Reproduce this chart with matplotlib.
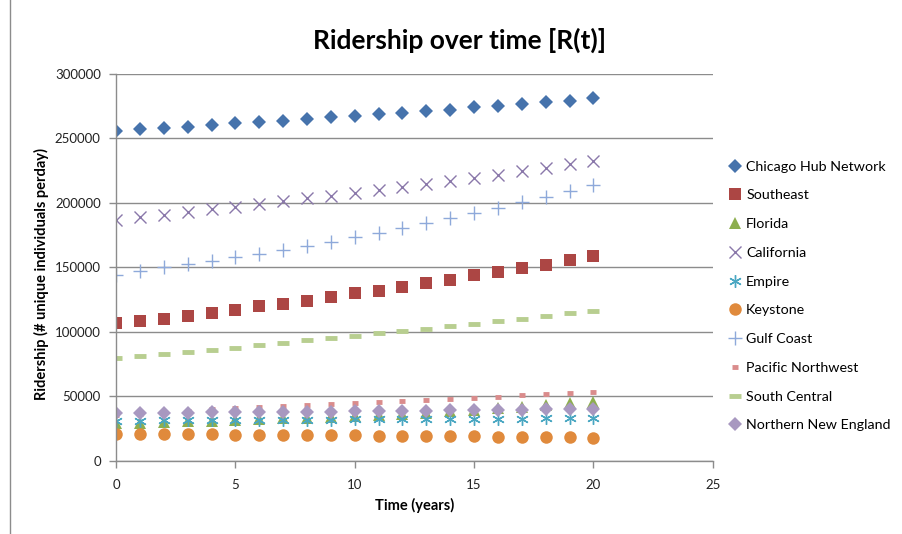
import numpy as np
import matplotlib
matplotlib.use("Agg")
import matplotlib.pyplot as plt
from matplotlib.lines import Line2D

plt.rcParams['font.family'] = ['Lato', 'DejaVu Sans']

# ridership per line, one value per year (0..20)
years = list(range(21))

chicago = [256000, 257200, 258300, 259100, 260800, 262000, 263100, 263800, 265300, 266300,
           267300, 268600, 269400, 271200, 272200, 274200, 275500, 276700, 278000, 279300, 281200]
southeast = [106700, 108500, 110200, 112100, 114800, 116700, 119800, 121300, 124100, 127000,
             129800, 131600, 134700, 137500, 140000, 143700, 146400, 149300, 152100, 156000, 158500]
florida = [29000, 29500, 30000, 30500, 31000, 31600, 32200, 32800, 33400, 34000,
           34600, 35400, 36300, 37300, 38400, 39600, 40800, 42000, 43200, 44400, 45600]
california = [186900, 188900, 190900, 193000, 195000, 197100, 199200, 201300, 203500, 205600,
              207800, 210100, 212400, 214700, 217100, 219500, 222000, 224500, 227100, 229800, 232500]
empire = [31000, 31100, 31200, 31300, 31400, 31500, 31600, 31700, 31800, 31900,
          32000, 32100, 32200, 32300, 32400, 32500, 32600, 32700, 32800, 32900, 33000]
keystone = [20800, 20700, 20600, 20500, 20400, 20300, 20100, 20000, 19900, 19800,
            19600, 19500, 19300, 19200, 19000, 18900, 18700, 18500, 18300, 18100, 17900]
gulf_coast = [144400, 146900, 150000, 152600, 155200, 157700, 160200, 163300, 166500, 170000,
              173500, 177000, 180500, 184300, 188200, 192200, 196300, 200500, 204800, 209200, 213600]
pacific_nw = [35500, 36500, 37500, 38600, 39800, 40800, 41700, 42500, 43300, 44100,
              44900, 45700, 46400, 47200, 48000, 48800, 49700, 50600, 51500, 52400, 53400]
south_central = [79500, 81000, 82900, 84100, 86000, 87700, 89500, 91300, 93300, 95200,
                 96900, 98700, 100800, 102500, 104400, 106400, 108200, 110000, 112500, 114600, 116200]
northern_ne = [37000, 37100, 37200, 37300, 37400, 37500, 37700, 37800, 38000, 38100,
               38300, 38500, 38700, 38900, 39100, 39300, 39500, 39700, 39900, 40100, 40300]

series = [
    ("Chicago Hub Network", chicago, dict(marker='D', color='#4673AC', ms=7.5, mew=0)),
    ("Southeast", southeast, dict(marker='s', color='#AC4644', ms=9, mew=0)),
    ("Florida", florida, dict(marker='^', color='#8DAE4F', ms=9, mew=0)),
    ("California", california, dict(marker='x', color='#8A78AA', ms=9, mew=1.0)),
    ("Empire", empire, dict(marker=(6, 2, 0), color='#4AA7C2', ms=9, mew=1.0)),
    ("Keystone", keystone, dict(marker='o', color='#E08A3C', ms=9, mew=0)),
    ("Gulf Coast", gulf_coast, dict(marker='+', color='#8EA9DA', ms=10, mew=1.0)),
    ("Pacific Northwest", pacific_nw, dict(marker='_', color='#DA8C8C', ms=4, mew=3.5)),
    ("South Central", south_central, dict(marker='_', color='#B8CE90', ms=9, mew=3.5)),
    ("Northern New England", northern_ne, dict(marker='D', color='#A898C0', ms=7.5, mew=0)),
]

fig = plt.figure(figsize=(9.03, 5.34), dpi=100)
ax = fig.add_axes([0.1285, 0.1373, 0.6608, 0.7241])

for name, vals, style in series:
    ax.plot(years, vals, linestyle='none', label=name, **style)

ax.set_xlim(0, 25)
ax.set_ylim(0, 300000)
ax.set_xticks(range(0, 26, 5))
ax.set_yticks(range(0, 300001, 50000))
ax.yaxis.grid(True, color='#8C8C8C', linewidth=1.0)
ax.set_axisbelow(True)
for side in ['top', 'right']:
    ax.spines[side].set_visible(False)
for side in ['left', 'bottom']:
    ax.spines[side].set_color('#8C8C8C')
    ax.spines[side].set_linewidth(1.0)
ax.tick_params(axis='both', colors='#8C8C8C', length=5, width=1.0,
               labelcolor='#222222', labelsize=9.5)
ax.tick_params(axis='x', pad=8)
ax.tick_params(axis='y', pad=6)

ax.set_xlabel("Time (years)", fontsize=10.5, fontweight='bold', labelpad=5)
ax.set_ylabel("Ridership (# unique individuals perday)", fontsize=10.5, fontweight='bold')
ax.yaxis.set_label_coords(-0.113, 0.483)
fig.text(0.509, 0.925, "Ridership over time [R(t)]", ha='center', va='center',
         fontsize=19, fontweight='bold')

ax.legend(loc='center left', bbox_to_anchor=(0.801, 0.4457), bbox_transform=fig.transFigure,
          frameon=False, fontsize=10.3, handlelength=0.9, handletextpad=0.3,
          labelspacing=1.17, borderaxespad=0)

# chart area border on the left edge
fig.add_artist(Line2D([10 / 903, 10 / 903], [0, 1], color='#8C8C8C', linewidth=1.0,
                      transform=fig.transFigure))

fig.savefig("out.png", dpi=100)
